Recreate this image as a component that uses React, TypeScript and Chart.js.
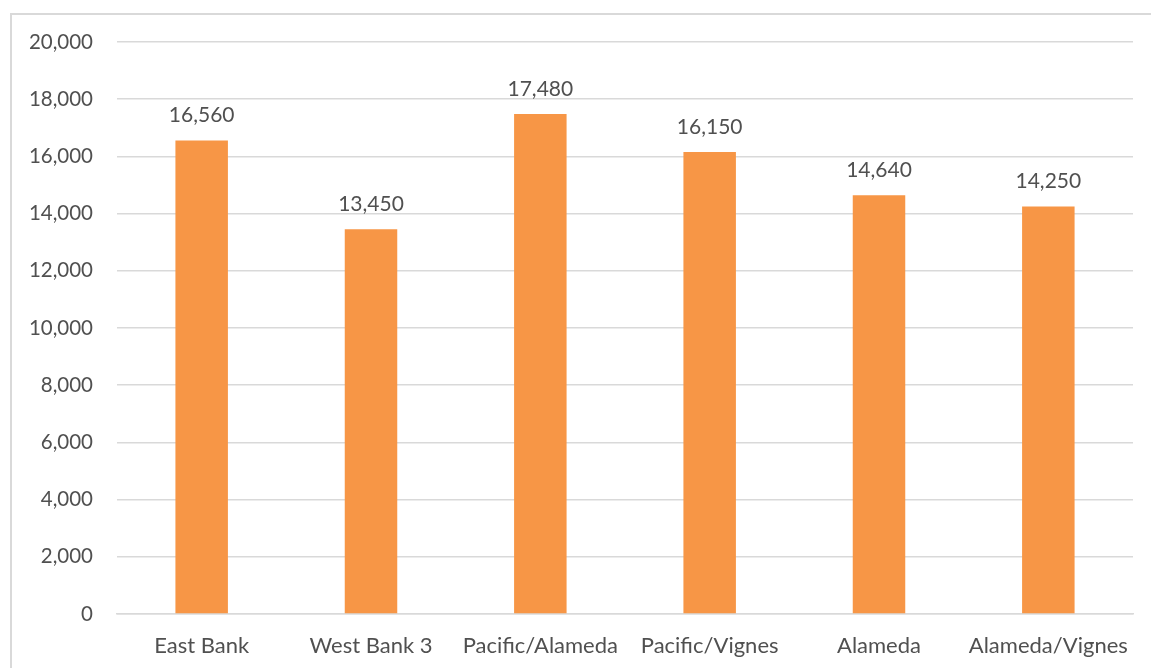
import React, { useEffect, useRef } from "react";
import { Chart, registerables } from "chart.js";

Chart.register(...registerables);

const categories = ["East Bank", "West Bank 3", "Pacific/Alameda", "Pacific/Vignes", "Alameda", "Alameda/Vignes"];
const values = [16560, 13450, 17480, 16150, 14640, 14250];
const yTicks = [0, 2000, 4000, 6000, 8000, 10000, 12000, 14000, 16000, 18000, 20000];

const FONT = "Lato, 'Open Sans', sans-serif";
const TEXT = "#505050";
const GRID = "#d9d9d9";

const fmt = (v: number) => v.toLocaleString("en-US");

const labelPlugin = {
  id: "barLabels",
  afterDatasetsDraw(chart: any) {
    const ctx = chart.ctx;
    const meta = chart.getDatasetMeta(0);
    ctx.save();
    ctx.font = `21px ${FONT}`;
    ctx.fillStyle = TEXT;
    ctx.textAlign = "center";
    ctx.textBaseline = "middle";
    meta.data.forEach((bar: any, i: number) => {
      ctx.fillText(fmt(values[i]), bar.x, bar.y - 25);
    });
    ctx.restore();
  },
};

const borderPlugin = {
  id: "outerBorder",
  beforeDraw(chart: any) {
    const ctx = chart.ctx;
    ctx.save();
    ctx.fillStyle = "#ffffff";
    ctx.fillRect(0, 0, chart.width, chart.height);
    ctx.strokeStyle = GRID;
    ctx.lineWidth = 2;
    ctx.strokeRect(11, 14, chart.width + 20, chart.height + 20);
    ctx.restore();
  },
};

export default function App() {
  const ref = useRef<HTMLCanvasElement | null>(null);
  useEffect(() => {
    if (!ref.current) return;
    const chart = new Chart(ref.current, {
      type: "bar",
      data: {
        labels: categories,
        datasets: [
          {
            data: values,
            backgroundColor: "#F79646",
            borderWidth: 0,
            barPercentage: 0.31,
            categoryPercentage: 1,
          },
        ],
      },
      options: {
        animation: false,
        responsive: false,
        maintainAspectRatio: false,
        events: [],
        layout: { padding: { top: 42, right: 18, left: 0, bottom: 0 } },
        plugins: { legend: { display: false }, tooltip: { enabled: false } },
        scales: {
          x: {
            grid: { display: false, drawTicks: false },
            border: { display: true, color: GRID, width: 1.5 },
            ticks: { color: TEXT, font: { family: FONT, size: 22 }, padding: 19, maxRotation: 0 },
            afterFit: (s: any) => {
              s.height = 54;
            },
          },
          y: {
            min: 0,
            max: 20000,
            afterBuildTicks: (s: any) => {
              s.ticks = yTicks.map((v) => ({ value: v }));
            },
            grid: { color: GRID, lineWidth: 1.5, drawTicks: false },
            border: { display: false },
            ticks: {
              color: TEXT,
              font: { family: FONT, size: 20.5 },
              padding: 24,
              callback: (v: any) => fmt(Number(v)),
            },
            afterFit: (s: any) => {
              s.width = 117;
            },
          },
        },
      },
      plugins: [borderPlugin, labelPlugin],
    });
    return () => chart.destroy();
  }, []);
  return (
    <div style={{ position: "fixed", left: 0, top: 0, width: 1151, height: 668, background: "#fff" }}>
      <canvas ref={ref} width={1151} height={668} style={{ display: "block" }} />
    </div>
  );
}
